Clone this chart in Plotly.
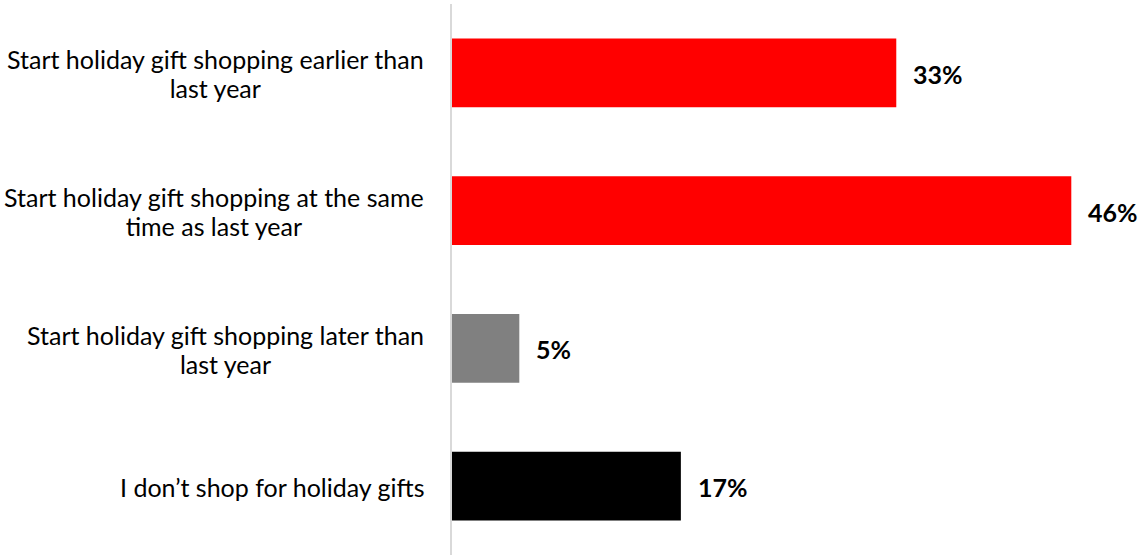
import plotly.graph_objects as go

categories = [
    "Start holiday gift shopping earlier than last year",
    "Start holiday gift shopping at the same time as last year",
    "Start holiday gift shopping later than last year",
    "I don\u2019t shop for holiday gifts",
]
# how each category name wraps onto lines
label_lines = [
    ["Start holiday gift shopping earlier than", "last year"],
    ["Start holiday gift shopping at the same", "time as last year"],
    ["Start holiday gift shopping later than", "last year"],
    ["I don\u2019t shop for holiday gifts"],
]
values = [33, 46, 5, 17]
colors = ["#ff0000", "#ff0000", "#808080", "#000000"]

FONT = "Lato, 'Open Sans', sans-serif"
TEXT_PX = 25
# base size sets the line pitch (1.3 x base = 29 px); spans carry the glyph size
BASE_PX = 29 / 1.3

fig = go.Figure(
    go.Bar(
        x=values,
        y=categories,
        orientation="h",
        width=0.5,
        marker=dict(color=colors, line=dict(width=0)),
        hoverinfo="skip",
    )
)

# value labels to the right of each bar
for cat, v in zip(categories, values):
    fig.add_annotation(
        x=v, y=cat, xref="x", yref="y",
        text=f"<b>{v}%</b>", showarrow=False,
        xanchor="left", xshift=15, yshift=-1,
        font=dict(family=FONT, size=TEXT_PX, color="#000000"),
    )

# category labels: block right-aligned to the axis, lines centred inside it
for cat, lines in zip(categories, label_lines):
    text = "<br>".join(
        f'<span style="font-size:{TEXT_PX}px">{line}</span>' for line in lines
    )
    fig.add_annotation(
        x=0, y=cat, xref="paper", yref="y",
        text=text, showarrow=False,
        xanchor="right", align="center", xshift=-26, yshift=-1,
        font=dict(family=FONT, size=BASE_PX, color="#000000"),
    )

fig.update_layout(
    width=1144, height=555,
    margin=dict(l=452, r=0, t=4, b=0),
    paper_bgcolor="white", plot_bgcolor="white",
    showlegend=False,
    bargap=0.5,
    xaxis=dict(range=[0, 51.4], visible=False, fixedrange=True),
    yaxis=dict(
        autorange="reversed", showticklabels=False, ticks="",
        showline=True, linecolor="#d9d9d9", linewidth=2,
        showgrid=False, zeroline=False, fixedrange=True,
    ),
)

fig.write_html("out.html")
